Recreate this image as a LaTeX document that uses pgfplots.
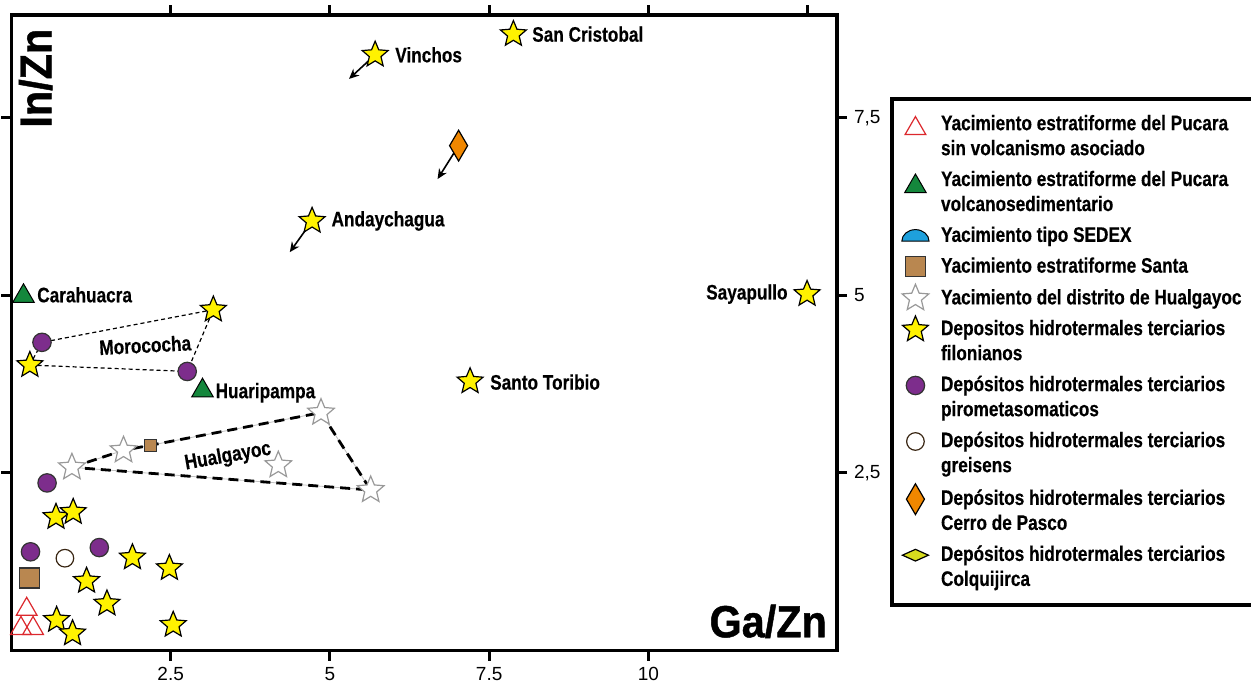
\documentclass[border=0pt]{standalone}
\usepackage{fontspec}
\setmainfont{Liberation Sans}
\newfontfamily\condfont{Liberation Sans}[FakeStretch=0.82, FakeBold=0.4]
\newfontfamily\axfont{Liberation Sans}[FakeStretch=0.92, FakeBold=1]
\usepackage{pgfplots}
\pgfplotsset{compat=1.18}
\usetikzlibrary{arrows.meta}

\definecolor{starY}{RGB}{255,242,0}
\definecolor{purp}{RGB}{125,45,140}
\definecolor{grn}{RGB}{20,135,60}
\definecolor{brn}{RGB}{185,135,80}
\definecolor{orng}{RGB}{240,135,0}
\definecolor{blu}{RGB}{30,160,220}
\definecolor{redt}{RGB}{220,40,45}
\definecolor{lime}{RGB}{215,220,30}

\newcommand\lab{\condfont\bfseries\fontsize{10.5}{12.5}\selectfont}
\newcommand\axl{\axfont\bfseries\fontsize{22.5}{24}\selectfont}

% filled five point star
\pgfdeclareplotmark{fstar}{%
  \pgfpathmoveto{\pgfpointpolar{90}{\pgfplotmarksize}}%
  \pgfpathlineto{\pgfpointpolar{126}{0.45*\pgfplotmarksize}}%
  \pgfpathlineto{\pgfpointpolar{162}{\pgfplotmarksize}}%
  \pgfpathlineto{\pgfpointpolar{198}{0.45*\pgfplotmarksize}}%
  \pgfpathlineto{\pgfpointpolar{234}{\pgfplotmarksize}}%
  \pgfpathlineto{\pgfpointpolar{270}{0.45*\pgfplotmarksize}}%
  \pgfpathlineto{\pgfpointpolar{306}{\pgfplotmarksize}}%
  \pgfpathlineto{\pgfpointpolar{342}{0.45*\pgfplotmarksize}}%
  \pgfpathlineto{\pgfpointpolar{18}{\pgfplotmarksize}}%
  \pgfpathlineto{\pgfpointpolar{54}{0.45*\pgfplotmarksize}}%
  \pgfpathclose
  \pgfusepathqfillstroke}
% half disc (SEDEX)
\pgfdeclareplotmark{dome}{%
  \pgfpathmoveto{\pgfqpoint{-\pgfplotmarksize}{-0.4\pgfplotmarksize}}%
  \pgfpatharc{180}{0}{\pgfplotmarksize and 0.85\pgfplotmarksize}%
  \pgfpathclose
  \pgfusepathqfillstroke}

\pgfplotsset{
  ystar/.style={only marks, mark=fstar, mark size=6.8pt, mark options={fill=starY, draw=black, line width=0.6pt}},
  hstar/.style={only marks, mark=fstar, mark size=7pt, mark options={fill=white, draw=gray!80, line width=0.6pt}},
}

\begin{document}
\begin{tikzpicture}
\useasboundingbox (-5.7pt,-15.75pt) rectangle (619.8pt,325.25pt);
\begin{axis}[
    at={(0,0)}, anchor=south west,
    scale only axis,
    width=412.8pt, height=317.75pt,
    xmin=0, xmax=12.96, ymin=0, ymax=8.95,
    clip=false,
    axis line style={line width=1.8pt},
    tick align=outside,
    major tick length=5pt,
    every tick/.style={black, line width=1.5pt},
    xtick={2.5,5,7.5,10},
    xticklabels={2.5,5,7.5,10},
    extra x ticks={12.5},
    extra x tick labels={},
    extra x tick style={xtick pos=right},
    ytick={2.5,5,7.5},
    yticklabels={{2,5},{5},{7,5}},
    yticklabel pos=right,
    ytick pos=both, xtick pos=both,
    xticklabel pos=left,
    tick label style={font=\fontsize{9.5}{11}\selectfont},
    /pgf/number format/assume math mode=true,
    legend style={
      at={(1.064,0.871)}, anchor=north west,
      draw=black, line width=2pt,
      inner xsep=5pt, inner ysep=6pt,
      font=\lab,
      row sep=2.3pt,
      /tikz/every odd column/.style={column sep=4pt},
      cells={align=left, anchor=base west},
    },
    legend cell align=left,
]
% arrows
\addplot[forget plot, line width=0.8pt, -{Stealth[length=5pt,width=4.5pt]}] coordinates {(5.71,8.39) (5.30,8.05)};
\addplot[forget plot, line width=0.8pt, -{Stealth[length=5pt,width=4.5pt]}] coordinates {(4.72,6.05) (4.37,5.61)};
\addplot[forget plot, line width=0.8pt, -{Stealth[length=5pt,width=4.5pt]}] coordinates {(7.02,7.11) (6.69,6.64)};
% Morococha outline
\addplot[forget plot, line width=0.6pt, dash pattern=on 2pt off 1.5pt] coordinates {
  (0.29,4.02) (0.48,4.34) (3.17,4.80) (2.76,3.93) (0.29,4.02)};
% Hualgayoc outline
\addplot[forget plot, gray!50, line width=0.4pt] coordinates {
  (0.95,2.58) (1.76,2.82) (2.18,2.89) (4.86,3.35) (5.64,2.26) (0.95,2.58)};
\addplot[forget plot, line width=1.4pt, dash pattern=on 5pt off 3pt] coordinates {
  (0.95,2.58) (1.76,2.82) (2.18,2.89) (4.86,3.35) (5.64,2.26) (0.95,2.58)};

% Hualgayoc district (hollow stars)
\addplot[forget plot, hstar] coordinates {(4.86,3.35) (1.76,2.82) (0.95,2.58) (4.19,2.61) (5.64,2.26)};
% Santa
\addplot[forget plot, only marks, mark=square*, mark size=5pt, mark options={fill=brn, draw=black!80, line width=0.6pt}] coordinates {(0.28,1.02)};
\addplot[forget plot, only marks, mark=square*, mark size=3pt, mark options={fill=brn, draw=black!80, line width=0.6pt}] coordinates {(2.18,2.89)};
% filonianos
\addplot[forget plot, ystar] coordinates {
  (5.71,8.39) (7.88,8.68) (4.72,6.05) (12.49,5.02) (3.17,4.80) (0.29,4.02)
  (7.20,3.79) (0.70,1.88) (0.97,1.95) (1.90,1.31) (2.48,1.16) (1.18,0.98)
  (1.50,0.66) (0.71,0.43) (0.96,0.24) (2.54,0.36)};
% pirometasomaticos
\addplot[forget plot, only marks, mark=*, mark size=4.6pt, mark options={fill=purp, draw=black!80, line width=0.6pt}] coordinates {
  (0.48,4.34) (2.76,3.93) (0.56,2.36) (0.30,1.39) (1.38,1.45)};
% greisens
\addplot[forget plot, only marks, mark=*, mark size=4.4pt, mark options={fill=white, draw=black!70!brown, line width=0.6pt}] coordinates {(0.84,1.30)};
% Pucara volcanosedimentario
\addplot[forget plot, only marks, mark=triangle*, mark size=6.2pt, mark options={fill=grn, draw=black, line width=0.5pt}] coordinates {(0.19,4.99) (3.00,3.66)};
% Pucara sin volcanismo
\addplot[forget plot, only marks, mark=triangle, mark size=6pt, mark options={draw=redt, line width=0.6pt}] coordinates {(0.24,0.58) (0.15,0.31) (0.34,0.31)};
% Cerro de Pasco
\addplot[forget plot, only marks, mark=diamond*, mark size=7.7pt, mark options={fill=orng, draw=black, line width=0.6pt, xscale=0.78}] coordinates {(7.02,7.11)};

% labels
\node[anchor=west, font=\lab, inner sep=0pt] at (axis cs:6.02,8.39) {Vinchos};
\node[anchor=west, font=\lab, inner sep=0pt] at (axis cs:8.17,8.68) {San Cristobal};
\node[anchor=west, font=\lab, inner sep=0pt] at (axis cs:5.02,6.05) {Andaychagua};
\node[anchor=west, font=\lab, inner sep=0pt] at (axis cs:0.40,5.01) {Carahuacra};
\node[anchor=east, font=\lab, inner sep=0pt] at (axis cs:12.19,5.02) {Sayapullo};
\node[anchor=west, font=\lab, inner sep=0pt] at (axis cs:7.51,3.78) {Santo Toribio};
\node[anchor=west, font=\lab, inner sep=0pt] at (axis cs:3.20,3.63) {Huaripampa};
\node[font=\lab, inner sep=0pt, rotate=3] at (axis cs:2.10,4.30) {Morococha};
\node[font=\lab, inner sep=0pt, rotate=10] at (axis cs:3.40,2.73) {Hualgayoc};
\node[font=\axl, inner sep=0pt, rotate=90] at (axis cs:0.38,8.06) {In/Zn};
\node[font=\axl, inner sep=0pt] at (axis cs:11.88,0.41) {Ga/Zn};

% legend
\addlegendimage{only marks, mark=triangle, mark size=6pt, mark options={draw=redt, line width=0.6pt, yshift=4pt}}
\addlegendentry{Yacimiento estratiforme del Pucara\\sin volcanismo asociado}
\addlegendimage{only marks, mark=triangle*, mark size=6.2pt, mark options={fill=grn, draw=black, line width=0.5pt, yshift=3pt}}
\addlegendentry{Yacimiento estratiforme del Pucara\\volcanosedimentario}
\addlegendimage{only marks, mark=dome, mark size=6.8pt, mark options={fill=blu, draw=black, line width=0.5pt}}
\addlegendentry{Yacimiento tipo SEDEX}
\addlegendimage{only marks, mark=square*, mark size=5pt, mark options={fill=brn, draw=black!80, line width=0.6pt}}
\addlegendentry{Yacimiento estratiforme Santa}
\addlegendimage{hstar}
\addlegendentry{Yacimiento del distrito de Hualgayoc}
\addlegendimage{only marks, mark=fstar, mark size=6.8pt, mark options={fill=starY, draw=black, line width=0.6pt, yshift=6pt}}
\addlegendentry{Depositos hidrotermales terciarios\\filonianos}
\addlegendimage{only marks, mark=*, mark size=4.6pt, mark options={fill=purp, draw=black!80, line width=0.6pt, yshift=6pt}}
\addlegendentry{Depósitos hidrotermales terciarios\\pirometasomaticos}
\addlegendimage{only marks, mark=*, mark size=4.4pt, mark options={fill=white, draw=black!70!brown, line width=0.6pt, yshift=6pt}}
\addlegendentry{Depósitos hidrotermales terciarios\\greisens}
\addlegendimage{only marks, mark=diamond*, mark size=7.7pt, mark options={fill=orng, draw=black, line width=0.6pt, xscale=0.78, yshift=6pt}}
\addlegendentry{Depósitos hidrotermales terciarios\\Cerro de Pasco}
\addlegendimage{only marks, mark=diamond*, mark size=6.5pt, mark options={fill=lime, draw=black, line width=0.6pt, yshift=6pt, rotate=90, xscale=0.6}}
\addlegendentry{Depósitos hidrotermales terciarios\\Colquijirca}
\end{axis}
\end{tikzpicture}
\end{document}
